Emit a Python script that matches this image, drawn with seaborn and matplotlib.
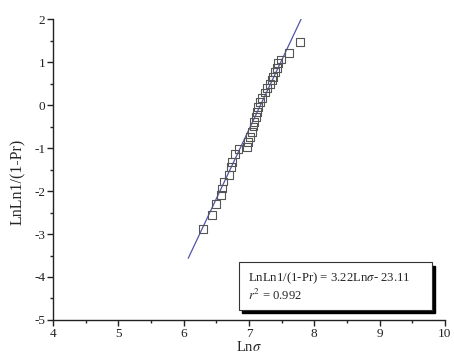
import numpy as np
import pandas as pd
import seaborn as sns
from matplotlib import pyplot as plt
from matplotlib.patches import Rectangle
from matplotlib.ticker import AutoMinorLocator, MultipleLocator

# measured points (Ln sigma, LnLn1/(1-Pr))
ln_sigma = [6.29, 6.44, 6.50, 6.57, 6.59, 6.61, 6.70, 6.72, 6.74, 6.79, 6.84,
            6.97, 6.99, 7.02, 7.04, 7.07, 7.08, 7.11, 7.12, 7.14, 7.17, 7.20,
            7.24, 7.27, 7.32, 7.35, 7.37, 7.40, 7.43, 7.45, 7.49, 7.61, 7.78]
lnln_pr = [-2.89, -2.56, -2.31, -2.09, -1.94, -1.78, -1.63, -1.45, -1.33, -1.14, -1.03,
           -0.97, -0.85, -0.74, -0.62, -0.50, -0.39, -0.27, -0.16, -0.04, 0.08, 0.17,
           0.29, 0.40, 0.49, 0.58, 0.66, 0.77, 0.87, 0.97, 1.06, 1.22, 1.46]

# fitted line
slope = 3.22
intercept = -23.11
fit_range = [6.07, 7.81]
r2 = 0.992

df = pd.DataFrame({"x": ln_sigma, "y": lnln_pr})
fit_x = np.array(fit_range)
fit_df = pd.DataFrame({"x": fit_x, "y": slope * fit_x + intercept})

sns.set_theme(style="ticks")
plt.rcParams["font.family"] = ["Liberation Serif", "DejaVu Serif"]
plt.rcParams["mathtext.fontset"] = "stix"
plt.rcParams["axes.unicode_minus"] = False

fig = plt.figure(figsize=(4.54, 3.63), dpi=100)
ax = fig.add_axes([0.1167, 0.1185, 0.8634, 0.829])

sns.lineplot(data=fit_df, x="x", y="y", ax=ax, color="#4f55a8", linewidth=0.9)
sns.scatterplot(data=df, x="x", y="y", ax=ax, marker="s", s=32,
                facecolor="none", edgecolor="#555555", linewidth=0.8, zorder=3)

ax.set_xlim(4, 10)
ax.set_ylim(-5, 2)
ax.xaxis.set_major_locator(MultipleLocator(1))
ax.yaxis.set_major_locator(MultipleLocator(1))
ax.xaxis.set_minor_locator(AutoMinorLocator(2))
ax.yaxis.set_minor_locator(AutoMinorLocator(2))
ax.tick_params(which="major", direction="out", length=4, width=1, labelsize=9.5, pad=1.5,
               colors="#222222")
ax.tick_params(which="minor", direction="out", length=2, width=1)
for s in ["top", "right"]:
    ax.spines[s].set_visible(False)
for s in ["left", "bottom"]:
    ax.spines[s].set_linewidth(1)
    ax.spines[s].set_color("#222222")

ax.set_xlabel(r"Ln$\sigma$", fontsize=10.5, labelpad=0)
ax.set_ylabel("LnLn1/(1-Pr)", fontsize=11.5)
ax.yaxis.set_label_coords(-0.068, 0.46)

# equation box with shadow
bx, by, bw, bh = 0.475, 0.033, 0.491, 0.159
ax.add_patch(Rectangle((bx + 0.008, by - 0.011), bw, bh, transform=ax.transAxes,
                       facecolor="black", edgecolor="black", zorder=4, clip_on=False))
ax.add_patch(Rectangle((bx, by), bw, bh, transform=ax.transAxes,
                       facecolor="white", edgecolor="#333333", linewidth=0.8, zorder=5,
                       clip_on=False))
ax.text(bx + 0.023, by + 0.107, r"LnLn1/(1-Pr) = %.2fLn$\sigma$- %.2f" % (slope, -intercept),
        transform=ax.transAxes, fontsize=9.2, va="center", ha="left", zorder=6)
ax.text(bx + 0.023, by + 0.047, r"$r^2$ = %.3f" % r2,
        transform=ax.transAxes, fontsize=9.2, va="center", ha="left", zorder=6)

fig.savefig("out.png", dpi=100)
